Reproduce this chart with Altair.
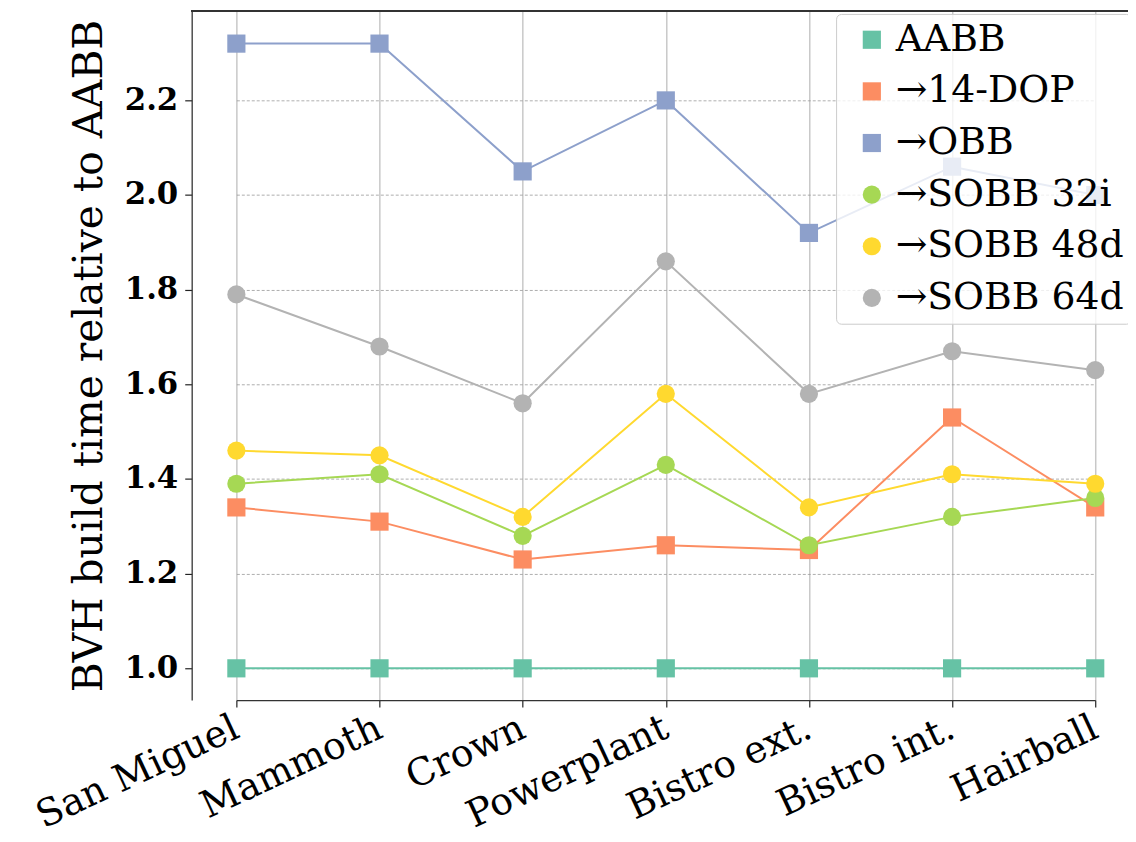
import altair as alt
import pandas as pd

# ---- data ----
scenes = ["San Miguel", "Mammoth", "Crown", "Powerplant", "Bistro ext.", "Bistro int.", "Hairball"]
series_names = ["AABB", "\u219214-DOP", "\u2192OBB", "\u2192SOBB 32i", "\u2192SOBB 48d", "\u2192SOBB 64d"]
aabb = [1.00, 1.00, 1.00, 1.00, 1.00, 1.00, 1.00]
dop14 = [1.34, 1.31, 1.23, 1.26, 1.25, 1.53, 1.34]
obb = [2.32, 2.32, 2.05, 2.20, 1.92, 2.06, 2.00]
sobb32i = [1.39, 1.41, 1.28, 1.43, 1.26, 1.32, 1.36]
sobb48d = [1.46, 1.45, 1.32, 1.58, 1.34, 1.41, 1.39]
sobb64d = [1.79, 1.68, 1.56, 1.86, 1.58, 1.67, 1.63]
y_ticks = [1.0, 1.2, 1.4, 1.6, 1.8, 2.0, 2.2]

colors = ["#66c2a5", "#fc8d62", "#8da0cb", "#a6d854", "#ffd92f", "#b3b3b3"]
shapes = ["square", "square", "square", "circle", "circle", "circle"]
sizes = [335, 335, 335, 230, 230, 230]

all_series = [aabb, dop14, obb, sobb32i, sobb48d, sobb64d]
rows = []
for name, vals in zip(series_names, all_series):
    for i, (sc, v) in enumerate(zip(scenes, vals)):
        rows.append({"series": name, "scene": sc, "idx": i, "value": v})
df = pd.DataFrame(rows)

FONT = "DejaVu Serif"
W, H = 943, 694

x_enc = alt.X(
    "scene:N",
    sort=scenes,
    scale=alt.Scale(type="point", range=[45, 910], padding=0),
    axis=alt.Axis(
        title=None, labelAngle=335, labelAlign="right", labelBaseline="top",
        labelFont=FONT, labelFontSize=38, labelColor="black", labelPadding=2,
        labelOffset=-8,
        labelOverlap=False, labelLimit=500, labelFlush=False,
        tickSize=7, tickColor="#222222", tickWidth=1.2,
        grid=True, gridColor="#c8c8c8", gridWidth=1.5,
        domainColor="#333333", domainWidth=1.3,
    ),
)
y_enc = alt.Y(
    "value:Q",
    scale=alt.Scale(domain=[0.933, 2.389], nice=False, zero=False),
    axis=alt.Axis(
        values=y_ticks, format=".1f",
        title="BVH build time relative to AABB",
        titleFont=FONT, titleFontSize=41, titleFontWeight="normal", titleColor="black",
        titlePadding=14,
        labelFont=FONT, labelFontWeight="bold", labelFontSize=31, labelColor="black",
        labelPadding=7, tickSize=7, tickColor="#222222", tickWidth=1.2,
        grid=True, gridColor="#999999", gridDash=[3, 2], gridWidth=0.8,
        domainColor="#333333", domainWidth=1.3,
    ),
)

leg = alt.Legend(
    title=None, orient="none", legendX=649, legendY=3,
    padding=7, symbolOffset=10, labelOffset=5,
    labelFont=FONT, labelFontSize=38, labelColor="black", labelLimit=500,
    rowPadding=14, fillColor="rgba(255,255,255,0.8)", strokeColor="#cccccc",
    cornerRadius=5, symbolStrokeWidth=0, symbolOpacity=1, zindex=5,
)

color_scale = alt.Scale(domain=series_names, range=colors)
shape_scale = alt.Scale(domain=series_names, range=shapes)
size_scale = alt.Scale(domain=series_names, range=sizes)

lines = alt.Chart(df).mark_line(strokeWidth=2).encode(
    x=x_enc, y=y_enc,
    color=alt.Color("series:N", scale=color_scale, legend=leg),
    order="idx:Q",
)

points = alt.Chart(df).mark_point(filled=True, opacity=1).encode(
    x=x_enc, y=y_enc,
    color=alt.Color("series:N", scale=color_scale, legend=leg),
    shape=alt.Shape("series:N", scale=shape_scale, legend=leg),
    size=alt.Size("series:N", scale=size_scale, legend=leg),
)

top_spine = alt.Chart(df).mark_rule(color="#333333", strokeWidth=1.3).encode(
    x=alt.value(0), x2=alt.value(W), y=alt.value(0)
)

chart = alt.layer(lines, points, top_spine).properties(
    width=W, height=H,
    autosize=alt.AutoSizeParams(type="none"),
    padding={"left": 185, "top": 0, "right": 0, "bottom": 140},
).configure(font=FONT).configure_view(strokeWidth=0)

chart.save("out.html", embed_options={"renderer": "svg", "actions": False})
